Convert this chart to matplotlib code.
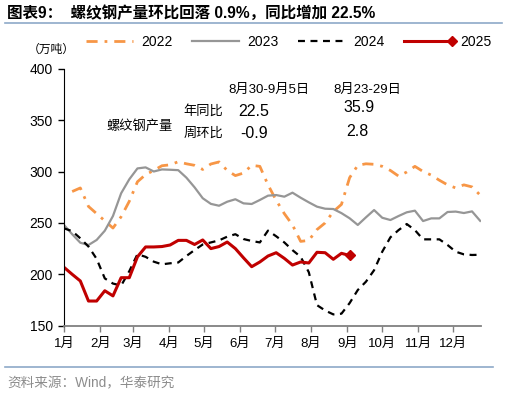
import numpy as np
import matplotlib
matplotlib.use("Agg")
import matplotlib.pyplot as plt
from matplotlib.lines import Line2D
from matplotlib.legend_handler import HandlerLine2D

plt.rcParams['font.family'] = ['Liberation Sans', 'Noto Sans CJK SC']
plt.rcParams['lines.scale_dashes'] = False

# weekly rebar output, 10k tonnes
y2022 = [280.5, 284, 266, 259, 252, 245, 256, 271, 290, 297, 301, 305.6, 306.5, 309.5,
         307.5, 306, 302, 307.3, 309.3, 301, 296, 298.5, 306, 305, 287, 272, 259, 248,
         232, 233, 243.5, 250, 261, 268, 294, 306, 307.5, 307, 305, 301, 295.5, 299.5,
         305, 300, 296.5, 291.5, 287, 284, 287, 285, 277]
y2023 = [248, 239, 230.7, 228.5, 233.4, 242.4, 256.7, 278.8, 292.4, 303, 304, 300, 302,
         301.7, 301.3, 294, 284.6, 274, 268.5, 266.7, 270.6, 273, 269, 268.4, 272.3, 276.5,
         277.1, 275.5, 279.4, 274.5, 270, 265.8, 263.8, 263.5, 259.5, 254.5, 248, 255.4,
         262.5, 255, 252.8, 256.7, 260.3, 261.9, 251.8, 254.4, 254.4, 260.6, 261, 259.6,
         261.2, 252]
y2024 = [244.7, 242, 235, 227, 215, 196, 191, 189, 203, 219.5, 217, 212.3, 209.7, 210.7,
         211.5, 217.8, 223.6, 229, 231, 233, 236.6, 239, 234.3, 232.4, 231, 242.5, 237,
         231, 223.5, 217, 202, 170, 164.8, 161, 161.7, 172, 184.7, 192.8, 204, 222, 236,
         243, 248.9, 243, 234, 234, 234, 228.5, 222, 219.4, 218.8, 219]
y2025 = [206.8, 200, 193.5, 174, 174, 184, 179, 196.7, 196.7, 217, 226.6, 226.6, 227,
         228.5, 233, 233, 229, 233.4, 225, 227, 231.4, 225, 216, 207.4, 212, 217.8, 221,
         215.5, 209, 212, 211, 221.4, 221, 214.6, 220.4, 218.3]

month_days = [0, 31, 59, 90, 120, 151, 181, 212, 243, 273, 304, 334]
month_labels = ['1月', '2月', '3月', '4月', '5月', '6月', '7月', '8月', '9月', '10月', '11月', '12月']

W, H = 507, 397
fig = plt.figure(figsize=(W / 100, H / 100), dpi=100)
ax = fig.add_axes([64 / W, 1 - 325.7 / H, (481 - 64) / W, (325.7 - 68.7) / H])

def px(x, y):
    return x / W, 1 - y / H

x22 = (np.arange(len(y2022)) + 1) * 7
x23 = np.arange(len(y2023)) * 7
x24 = np.arange(len(y2024)) * 7
x25 = np.arange(len(y2025)) * 7

l22, = ax.plot(x22, y2022, color='#F79646', lw=2.0, dashes=(8, 5, 2, 5))
l23, = ax.plot(x23, y2023, color='#969696', lw=1.6)
l24, = ax.plot(x24, y2024, color='black', lw=1.6, dashes=(5, 4))
l25, = ax.plot(x25, y2025, color='#C00000', lw=2.2)
ax.plot(x25[-1:], y2025[-1:], color='#C00000', marker='D', ms=5.5, ls='none')

ax.set_xlim(0, 357.7)
ax.set_ylim(150, 400)
ax.set_yticks([150, 200, 250, 300, 350, 400])
ax.set_xticks(month_days)
ax.set_xticklabels(month_labels)
ax.tick_params(axis='y', labelsize=10, length=4, width=1, pad=4, colors='black')
ax.tick_params(axis='x', labelsize=9.5, length=4, width=1, pad=5, color='#808080')
ax.spines['top'].set_visible(False)
ax.spines['right'].set_visible(False)
ax.spines['left'].set_color('black')
ax.spines['bottom'].set_color('#808080')
ax.spines['bottom'].set_linewidth(1.3)

# legend: 2025 shows its diamond only at the right end of the line
class EndMarker(HandlerLine2D):
    def create_artists(self, legend, orig_handle, xdescent, ydescent, width, height, fontsize, trans):
        arts = super().create_artists(legend, orig_handle, xdescent, ydescent, width, height, fontsize, trans)
        line = arts[0]
        xd = line.get_xdata()
        yd = line.get_ydata()
        mk = Line2D([xd[-1]], [yd[-1]], color=orig_handle.get_color(), marker='D',
                    ms=orig_handle.get_markersize(), ls='none')
        mk.set_transform(trans)
        line.set_marker('None')
        return [line, mk]

h25 = Line2D([0, 1], [0, 0], color='#C00000', lw=2.2, marker='D', ms=5.5)
leg = fig.legend([l22, l23, l24, h25], ['2022', '2023', '2024', '2025'],
                 loc='center left', bbox_to_anchor=px(80, 42), ncol=4, frameon=False,
                 fontsize=10, handlelength=3.4, handletextpad=0.6, columnspacing=1.4,
                 borderaxespad=0, handler_map={h25: EndMarker()})

fig.text(*px(28, 50), '（万吨）', fontsize=8.5, va='center', ha='left')

# title and rules
fig.text(*px(7, 13), '图表9：  螺纹钢产量环比回落 0.9%，同比增加 22.5%', fontsize=11.2,
         fontweight='bold', va='center', ha='left')
fig.add_artist(Line2D([5 / W, 502 / W], [1 - 23.3 / H] * 2, color='#8EA9C8', lw=1.2))
fig.add_artist(Line2D([5 / W, 493 / W], [1 - 366.7 / H] * 2, color='#8EA9C8', lw=1.2))
fig.text(*px(7, 383), '资料来源：Wind，华泰研究', fontsize=9.8, color='#8C8C8C',
         va='center', ha='left')

# annotation block
fig.text(*px(269, 90), '8月30-9月5日', fontsize=9.5, ha='center', va='center')
fig.text(*px(367.5, 90), '8月23-29日', fontsize=9.5, ha='center', va='center')
fig.text(*px(203, 111), '年同比', fontsize=9.5, ha='center', va='center')
fig.text(*px(203, 134), '周环比', fontsize=9.5, ha='center', va='center')
fig.text(*px(140, 126), '螺纹钢产量', fontsize=9.5, ha='center', va='center')
fig.text(*px(254, 111), '22.5', fontsize=11.5, ha='center', va='center')
fig.text(*px(254, 134), '-0.9', fontsize=11.5, ha='center', va='center')
fig.text(*px(359, 107.5), '35.9', fontsize=11.5, ha='center', va='center')
fig.text(*px(357, 131.5), '2.8', fontsize=11.5, ha='center', va='center')

fig.savefig('out.png', dpi=100)
